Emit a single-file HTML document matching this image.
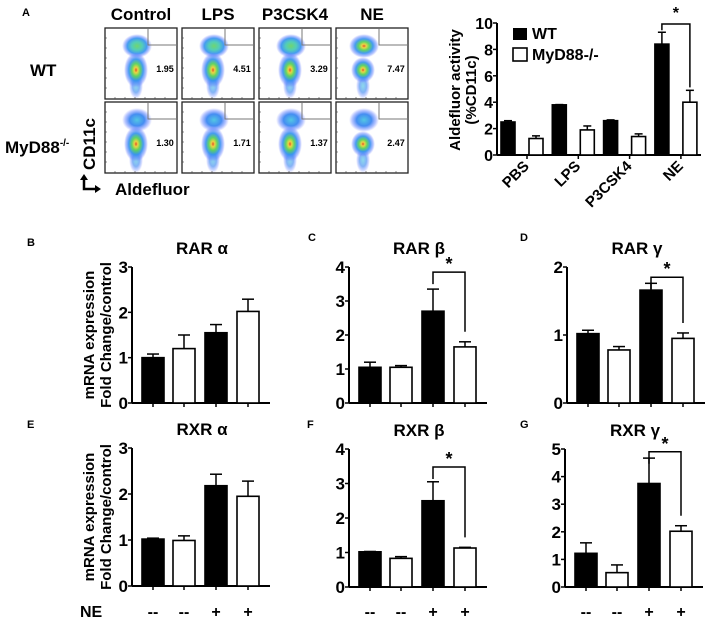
<!DOCTYPE html>
<html><head><meta charset="utf-8"><style>
html,body{margin:0;padding:0;background:#fff;}
svg{display:block;font-family:"Liberation Sans",Arial,sans-serif;font-weight:bold;}
</style></head><body>
<svg id="fig" width="708" height="620" viewBox="0 0 708 620" xmlns="http://www.w3.org/2000/svg">
<defs>
<radialGradient id="gHot"><stop offset="0" stop-color="#e04010"/><stop offset="0.15" stop-color="#e8d030"/><stop offset="0.35" stop-color="#50d050"/><stop offset="0.6" stop-color="#3090f0"/><stop offset="0.85" stop-color="#6080ff" stop-opacity="0.5"/><stop offset="1" stop-color="#8090ff" stop-opacity="0"/></radialGradient>
<radialGradient id="gWarm"><stop offset="0" stop-color="#60d060"/><stop offset="0.35" stop-color="#40c8b0"/><stop offset="0.65" stop-color="#3090f0"/><stop offset="0.85" stop-color="#6080ff" stop-opacity="0.5"/><stop offset="1" stop-color="#8090ff" stop-opacity="0"/></radialGradient>
<radialGradient id="gCool"><stop offset="0" stop-color="#40c0e0"/><stop offset="0.5" stop-color="#3080f0"/><stop offset="0.8" stop-color="#6080ff" stop-opacity="0.5"/><stop offset="1" stop-color="#8090ff" stop-opacity="0"/></radialGradient>
</defs>
<text x="22" y="16" font-size="11">A</text>
<g id="flow"></g>
<text x="30" y="76" font-size="17">WT</text>
<text x="5" y="153" font-size="17">MyD88<tspan font-size="10" dy="-7">-/-</tspan></text>
<text transform="translate(95,170) rotate(-90)" font-size="17">CD11c</text>
<path d="M84,176 V189 H97" fill="none" stroke="#000" stroke-width="2.5"/>
<path d="M80,180 L84,174 L88,180 Z M95,185 L101,189 L95,193 Z" fill="#000"/>
<text x="115" y="195" font-size="17">Aldefluor</text>
<g id="topchart"></g>
<g id="small"></g>
</svg>
<script>
const NS="http://www.w3.org/2000/svg";
function mk(parent,tag,attrs,text){const e=document.createElementNS(NS,tag);for(const k in attrs)e.setAttribute(k,attrs[k]);if(text!==undefined)e.textContent=text;parent.appendChild(e);return e;}

// ---------- Flow plots ----------
const flowCols=["Control","LPS","P3CSK4","NE"];
const flowWT=["1.95","4.51","3.29","7.47"];
const flowKO=["1.30","1.71","1.37","2.47"];
const flowG=document.getElementById('flow');
const colX=[105,182,259,336], rowY=[28,102];
flowCols.forEach((c,i)=>{
  const t=mk(flowG,'text',{x:colX[i]+36,y:20,'font-size':17,'text-anchor':'middle'},c);
  
  
  [flowWT,flowKO].forEach((vals,r)=>{
    const x=colX[i],y=rowY[r];
    const g=mk(flowG,'g',{});
    
    
    mk(g,'rect',{x:x,y:y,width:72,height:71,fill:'#fff',stroke:'#222','stroke-width':1.3});
    const ne=i===3;
    mk(g,'ellipse',{cx:x+31-(ne?4:0),cy:y+58,rx:7,ry:13,fill:'url(#gCool)',opacity:0.6});
    mk(g,'ellipse',{cx:x+32-(ne?4:0),cy:y+18,rx:15,ry:12,fill:'url(#'+(ne&&r===0?'gHot':(r===0?'gWarm':'gCool'))+')',opacity:0.9});
    mk(g,'ellipse',{cx:x+31-(ne?4:0),cy:y+42,rx:12,ry:(ne?13:18),fill:'url(#gHot)',opacity:0.9});
    mk(g,'path',{d:`M${x+43},${y+1} V${y+17} H${x+72}`,fill:'none',stroke:'#777','stroke-width':1});
    const n=mk(g,'text',{x:x+60,y:y+44,'font-size':9,'text-anchor':'middle'},vals[i]);
    
    
    for(let k=1;k<7;k++){mk(g,'line',{x1:x,x2:x+2,y1:y+k*10,y2:y+k*10,stroke:'#444','stroke-width':0.6});mk(g,'line',{x1:x+k*10,x2:x+k*10,y1:y+71,y2:y+69,stroke:'#444','stroke-width':0.6});}
  });
});

// ---------- Top chart ----------
const topCats=["PBS","LPS","P3CSK4","NE"];
const topWT=[2.5,3.8,2.6,8.4];
const topWTerr=[0.1,0.02,0.06,0.9];
const topKO=[1.25,1.9,1.4,4.0];
const topKOerr=[0.2,0.3,0.2,0.9];
const topTicks=[0,2,4,6,8,10];
(function(){
  const g=document.getElementById('topchart');
  const ax=497,y0=155,y1=23,max=10,x0=522,step=51.3;
  const Y=v=>y0-(v/max)*(y0-y1);
  const Xc=i=>x0+i*step;
  mk(g,'line',{x1:ax,x2:ax,y1:y1,y2:y0,stroke:'#000','stroke-width':2});
  mk(g,'line',{x1:ax,x2:701,y1:y0,y2:y0,stroke:'#000','stroke-width':2});
  topTicks.forEach(t=>{
    mk(g,'line',{x1:ax-4,x2:ax,y1:Y(t),y2:Y(t),stroke:'#000','stroke-width':1.5});
    const l=mk(g,'text',{x:ax-4,y:Y(t)+6,'font-size':16,'text-anchor':'end'},t);
    
    
  });
  topCats.forEach((c,i)=>{
    const cx=Xc(i);
    [[topWT,topWTerr,-21,'#000'],[topKO,topKOerr,7,'#fff']].forEach(([v,e,off,fill])=>{
      const bx=cx+off;
      mk(g,'line',{x1:bx+7,x2:bx+7,y1:Y(v[i]),y2:Y(v[i]+e[i]),stroke:'#000','stroke-width':1.5});
      mk(g,'line',{x1:bx+3,x2:bx+11,y1:Y(v[i]+e[i]),y2:Y(v[i]+e[i]),stroke:'#000','stroke-width':1.5});
      const b=mk(g,'rect',{x:bx,y:Y(v[i]),width:14,height:y0-Y(v[i]),fill:fill,stroke:'#000','stroke-width':1.6});
      
      
    });
    mk(g,'line',{x1:cx+5,x2:cx+5,y1:y0,y2:y0+4,stroke:'#000','stroke-width':1.5});
    const l=mk(g,'text',{x:0,y:0,'font-size':15,'text-anchor':'end',transform:`translate(${cx+8},${y0+12}) rotate(-45)`},c);
    
    
  });
  const t1=mk(g,'text',{transform:'translate(460,90) rotate(-90)','font-size':15,'text-anchor':'middle'},'Aldefluor activity');
  
  
  mk(g,'text',{transform:'translate(476,90) rotate(-90)','font-size':15,'text-anchor':'middle'},'(%CD11c)');
  const l1=mk(g,'rect',{x:513,y:28,width:14,height:12,fill:'#000'});
  
  
  mk(g,'text',{x:532,y:39,'font-size':16},'WT');
  const l2=mk(g,'rect',{x:513,y:48,width:14,height:13,fill:'#fff',stroke:'#000','stroke-width':1.6});
  
  
  mk(g,'text',{x:532,y:60,'font-size':16},'MyD88-/-');
  const c3=Xc(3);
  mk(g,'path',{d:`M${c3-14},${Y(9.3)-2} V${Y(10)+1} H${c3+14} V${Y(4.9)-3}`,fill:'none',stroke:'#000','stroke-width':1.5});
  const s=mk(g,'text',{x:c3,y:18,'font-size':16,'text-anchor':'middle'},'*');
  
  
})();

// ---------- Small charts ----------
const smallTitles=["RAR α","RAR β","RAR γ","RXR α","RXR β","RXR γ"];
const smallLetters=["B","C","D","E","F","G"];
const smallMax=[3,4,2,3,4,5];
const valsB=[1.0,1.2,1.55,2.02], errB=[0.08,0.3,0.18,0.27];
const valsC=[1.05,1.05,2.7,1.65], errC=[0.15,0.05,0.65,0.15];
const valsD=[1.02,0.78,1.66,0.95], errD=[0.05,0.05,0.1,0.08];
const valsE=[1.02,0.99,2.18,1.95], errE=[0.02,0.1,0.25,0.33];
const valsF=[1.02,0.83,2.5,1.13], errF=[0.01,0.05,0.55,0.02];
const valsG=[1.22,0.52,3.75,2.02], errG=[0.38,0.28,0.92,0.2];
const bracketTop=[null,3.85,1.85,null,3.48,4.9];
const neLabels=["--","--","+","+"];
(function(){
  const g=document.getElementById('small');
  const vals=[valsB,valsC,valsD,valsE,valsF,valsG];
  const errs=[errB,errC,errD,errE,errF,errG];
  const layout=[[132,267,403],[349,267,403],[567,267,403],[132,448,586],[349,449,587],[565,449,587]];
  const letterPos=[[27,246],[308,241],[520,241],[27,428],[307,428],[520,428]];
  const barOff=[10,41,73,105];
  vals.forEach((v,p)=>{
    const [ax,top,bot]=layout[p];
    const max=smallMax[p];
    const Y=val=>bot-(val/max)*(bot-top);
    const sg=mk(g,'g',{});
    
    
    mk(sg,'text',{x:letterPos[p][0],y:letterPos[p][1],'font-size':11},smallLetters[p]);
    const t=mk(sg,'text',{x:ax+70,y:top-13,'font-size':17,'text-anchor':'middle'},smallTitles[p]);
    
    
    mk(sg,'line',{x1:ax,x2:ax,y1:top,y2:bot,stroke:'#000','stroke-width':2});
    mk(sg,'line',{x1:ax,x2:ax+138,y1:bot,y2:bot,stroke:'#000','stroke-width':2});
    for(let k=0;k<=max;k++){
      mk(sg,'line',{x1:ax-4,x2:ax,y1:Y(k),y2:Y(k),stroke:'#000','stroke-width':1.5});
      const l=mk(sg,'text',{x:ax-4,y:Y(k)+6,'font-size':17,'text-anchor':'end'},k);
      
      
    }
    v.forEach((val,i)=>{
      const bx=ax+barOff[i];
      const e=errs[p][i];
      const fill=(i%2===0)?'#000':'#fff';
      mk(sg,'line',{x1:bx+11,x2:bx+11,y1:Y(val),y2:Y(val+e),stroke:'#000','stroke-width':1.5});
      mk(sg,'line',{x1:bx+5,x2:bx+17,y1:Y(val+e),y2:Y(val+e),stroke:'#000','stroke-width':1.5});
      const b=mk(sg,'rect',{x:bx,y:Y(val),width:22,height:bot-Y(val),fill:fill,stroke:'#000','stroke-width':1.6});
      
      
      mk(sg,'line',{x1:bx+11,x2:bx+11,y1:bot,y2:bot+4,stroke:'#000','stroke-width':1.5});
      if(p>=3){
        const n=mk(sg,'text',{x:bx+11,y:617,'font-size':16,'text-anchor':'middle'},neLabels[i]);
        
        
      }
    });
    if(bracketTop[p]!==null){
      const x3=ax+barOff[2]+11,x4=ax+barOff[3]+11,yt=Y(bracketTop[p]);
      const br=mk(sg,'path',{d:`M${x3},${yt+12} V${yt} H${x4} V${Y(v[3]+errs[p][3])-10}`,fill:'none',stroke:'#000','stroke-width':1.5});
      
      
      const s=mk(sg,'text',{x:(x3+x4)/2,y:yt-2,'font-size':18,'text-anchor':'middle'},'*');
      
      
    }
    if(p===0||p===3){
      const cy=(top+bot)/2;
      const a=mk(sg,'text',{transform:`translate(94,${cy}) rotate(-90)`,'font-size':15,'text-anchor':'middle'},'mRNA expression');
      
      
      mk(sg,'text',{transform:`translate(111,${cy}) rotate(-90)`,'font-size':15,'text-anchor':'middle'},'Fold Change/control');
    }
  });
  const ne=mk(g,'text',{x:80,y:617,'font-size':16},'NE');
  
  
})();
</script>
</body></html>
